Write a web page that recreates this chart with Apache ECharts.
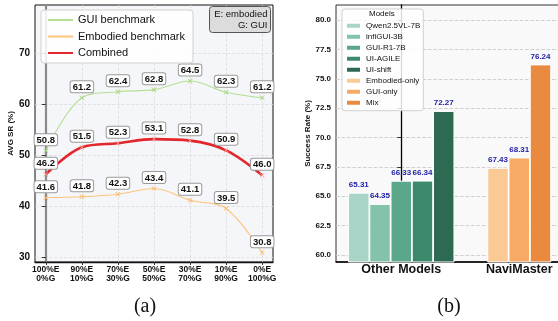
<!DOCTYPE html>
<html><head><meta charset="utf-8">
<script src="https://cdn.jsdelivr.net/npm/echarts@6/dist/echarts.min.js"></script>
<style>html,body{margin:0;padding:0;background:#fff}#c{width:558px;height:321px}</style>
</head><body><div id="c"></div>
<script>
// ---- data: left panel (a) ----
const mixLabels = ['100%E\n0%G','90%E\n10%G','70%E\n30%G','50%E\n50%G','30%E\n70%G','10%E\n90%G','0%E\n100%G'];
const guiBench = [50.8, 61.2, 62.4, 62.8, 64.5, 62.3, 61.2];
const embodiedBench = [41.6, 41.8, 42.3, 43.4, 41.1, 39.5, 30.8];
const combined = [46.2, 51.5, 52.3, 53.1, 52.8, 50.9, 46.0];
const leftTicks = [30, 40, 50, 60, 70];
const lineNames = ['GUI benchmark', 'Embodied benchmark', 'Combined'];

// ---- data: right panel (b) ----
const groups = ['Other Models', 'NaviMaster'];
const models = ['Qwen2.5VL-7B','infiGUI-3B','GUI-R1-7B','UI-AGILE','UI-shift','Embodied-only','GUI-only','Mix'];
const modelGroup = [0, 0, 0, 0, 0, 1, 1, 1];
const successRate = [65.31, 64.35, 66.33, 66.34, 72.27, 67.43, 68.31, 76.24];
const rightTicks = [60, 62.5, 65, 67.5, 70, 72.5, 75, 77.5, 80];

// ---- styles ----
const lineColors = ['#b7df93', '#fdc57c', '#e3262b'];
const markColors = ['#9fd178', '#fbb760', '#f4a0a0'];
const lineWidths = [1.1, 1.1, 2.6];
const barColors = ['#a9d5c8','#82c3a9','#5ba78a','#3c896c','#2e6a51','#fbc993','#f6aa66','#e98a3e'];
const BAR_STEP = 0.18;

const chart = echarts.init(document.getElementById('c'), null, {renderer: 'canvas'});
const idx = mixLabels.map((_, i) => i);
const crossPath = 'path://M0,1L1,0L5,4L9,0L10,1L6,5L10,9L9,10L5,6L1,10L0,9L4,5Z';

function lineSeries(k, vals) {
  return {
    type: 'line', name: lineNames[k], xAxisIndex: 0, yAxisIndex: 0,
    smooth: 0.35, symbol: crossPath, symbolSize: 5,
    data: vals.map((v, i) => [i, v]),
    lineStyle: {color: lineColors[k], width: lineWidths[k]},
    itemStyle: {color: markColors[k]},
    z: k === 2 ? 4 : 3,
    label: {
      show: true, position: 'top', distance: 3,
      formatter: p => p.value[1].toFixed(1),
      fontFamily: 'Liberation Sans', fontSize: 9.5, fontWeight: 'bold', color: '#111',
      backgroundColor: '#fff', borderColor: '#9a9a9a', borderWidth: 1, borderRadius: 2,
      padding: [1, 2, 0, 2]
    }
  };
}

// bar positions derived from group membership
const barPos = models.map((m, i) => {
  const g = modelGroup[i];
  const members = modelGroup.map((gg, j) => gg === g ? j : -1).filter(j => j >= 0);
  const k = members.indexOf(i);
  return g + (k - (members.length - 1) / 2) * BAR_STEP;
});

const barSeries = models.map((m, i) => ({
  type: 'bar', name: m, xAxisIndex: 1, yAxisIndex: 1,
  barWidth: 21.5, barGap: '-100%',
  data: [[barPos[i], successRate[i]]],
  itemStyle: {color: barColors[i], borderColor: '#fff', borderWidth: 1},
  label: {
    show: true, position: 'top', distance: 4,
    formatter: p => p.value[1].toFixed(2),
    fontFamily: 'Liberation Sans', fontSize: 8, fontWeight: 'bold', color: '#1d1da6'
  }
}));

const font = 'Liberation Sans';
const option = {
  animation: false,
  textStyle: {fontFamily: font},
  grid: [
    {left: 35, top: 5, width: 238, height: 257, outerBoundsMode: 'none', show: true, backgroundColor: '#f5f6f9', borderColor: '#111', borderWidth: 1},
    {left: 336, top: 5, width: 248.5, height: 257, outerBoundsMode: 'none', show: true, backgroundColor: '#f9f9f9', borderColor: '#333', borderWidth: 1}
  ],
  xAxis: [
    {
      type: 'value', gridIndex: 0, min: -0.3, max: 6.3,
      axisLine: {show: true, lineStyle: {color: '#111', width: 1.3}},
      axisTick: {show: true, customValues: idx, length: 3, lineStyle: {color: '#333'}},
      axisLabel: {customValues: idx, formatter: v => mixLabels[Math.round(v)], fontFamily: font, fontSize: 8.5, fontWeight: 'bold', lineHeight: 9, margin: 3, color: '#111'},
      splitLine: {show: true, lineStyle: {type: 'dashed', color: '#dddddd', width: 0.8}}
    },
    {
      type: 'value', gridIndex: 1, min: -0.553, max: 1.553,
      axisLine: {show: true, lineStyle: {color: '#000', width: 1.5}},
      axisTick: {show: false, customValues: [0, 1]},
      axisLabel: {customValues: [0, 1], formatter: v => groups[Math.round(v)], fontFamily: font, fontSize: 12.5, fontWeight: 'bold', margin: 1, color: '#111'},
      splitLine: {show: false}
    }
  ],
  yAxis: [
    {
      type: 'value', gridIndex: 0, min: 29, max: 79.4,
      name: 'AVG SR (%)', nameLocation: 'middle', nameGap: 20,
      nameTextStyle: {fontFamily: font, fontSize: 8, fontWeight: 'bold', color: '#111'},
      axisLine: {show: true, lineStyle: {color: '#8a8a8a', width: 2.2}},
      axisTick: {show: true, customValues: leftTicks, length: 4, lineStyle: {color: '#333'}},
      axisLabel: {customValues: leftTicks, fontFamily: font, fontSize: 10, fontWeight: 'bold', margin: 5, color: '#111'},
      splitLine: {show: true, lineStyle: {type: 'dashed', color: '#dddddd', width: 0.8}}
    },
    {
      type: 'value', gridIndex: 1, min: 59.4, max: 81.3,
      name: 'Success Rate (%)', nameLocation: 'middle', nameGap: 22,
      nameTextStyle: {fontFamily: font, fontSize: 8, fontWeight: 'bold', color: '#111'},
      axisLine: {show: true, lineStyle: {color: '#000', width: 1.3}},
      axisTick: {show: true, customValues: rightTicks, length: 4, lineStyle: {color: '#333'}},
      axisLabel: {customValues: rightTicks, formatter: v => v.toFixed(1), fontFamily: font, fontSize: 8, fontWeight: 'bold', margin: 5, color: '#111'},
      splitLine: {show: true, lineStyle: {type: 'dashed', color: '#c9c9c9', width: 0.9}}
    }
  ],
  legend: [
    {
      data: lineNames, orient: 'vertical', left: 41, top: 10,
      itemWidth: 25, itemHeight: 11, itemGap: 5.5,
      padding: [4.5, 8, 4.5, 6],
      backgroundColor: 'rgba(255,255,255,0.85)', borderColor: '#d0d0d0', borderWidth: 1, borderRadius: 3,
      itemStyle: {opacity: 0},
      textStyle: {fontFamily: font, fontSize: 11, lineHeight: 11, color: '#111'}
    },
    {
      data: models, orient: 'vertical', left: 342, top: 9,
      icon: 'rect', itemWidth: 15, itemHeight: 6, itemGap: 1,
      padding: [11.7, 3, 3, 3],
      backgroundColor: 'rgba(255,255,255,0.85)', borderColor: '#d0d0d0', borderWidth: 1, borderRadius: 3,
      textStyle: {fontFamily: font, fontSize: 8, lineHeight: 10, color: '#111'}
    }
  ],
  graphic: [
    {type: 'text', left: 382 - 13, top: 10, z: 100, style: {text: 'Models', fontFamily: font, fontSize: 8, fill: '#111'}},
    {type: 'rect', shape: {x: 209.5, y: 6.5, width: 61, height: 26, r: 3}, z: 100,
     style: {fill: '#dcdcdc', stroke: '#555', lineWidth: 1}},
    {type: 'text', x: 267.5, y: 14, z: 101, style: {text: 'E: embodied', align: 'right', verticalAlign: 'middle', fontFamily: font, fontSize: 9.5, fill: '#111'}},
    {type: 'text', x: 267.5, y: 25.5, z: 101, style: {text: 'G: GUI', align: 'right', verticalAlign: 'middle', fontFamily: font, fontSize: 9.5, fill: '#111'}},
    {type: 'text', x: 145, y: 307, z: 100, style: {text: '(a)', align: 'center', verticalAlign: 'middle', fontFamily: 'Liberation Serif', fontSize: 20, fill: '#111'}},
    {type: 'text', x: 449, y: 307, z: 100, style: {text: '(b)', align: 'center', verticalAlign: 'middle', fontFamily: 'Liberation Serif', fontSize: 20, fill: '#111'}}
  ],
  series: [
    lineSeries(0, guiBench),
    lineSeries(1, embodiedBench),
    lineSeries(2, combined)
  ].concat(barSeries)
};
chart.setOption(option);
</script>
</body></html>
